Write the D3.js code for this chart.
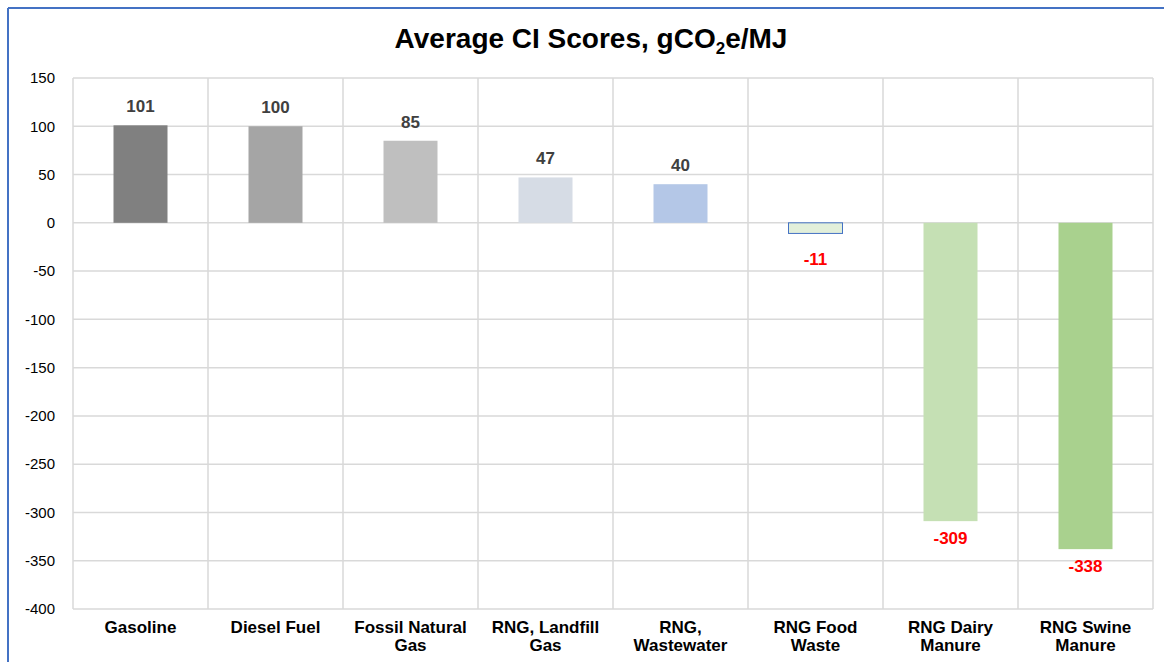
<!DOCTYPE html>
<html><head><meta charset="utf-8">
<script src="https://cdn.jsdelivr.net/npm/d3@7"></script>
<style>body{margin:0;background:#fff;} svg{display:block;}</style>
</head><body>
<svg id="chart" width="1164" height="662"></svg>
<script>
const categories = [["Gasoline"],["Diesel Fuel"],["Fossil Natural","Gas"],["RNG, Landfill","Gas"],["RNG,","Wastewater"],["RNG Food","Waste"],["RNG Dairy","Manure"],["RNG Swine","Manure"]];
const values = [101, 100, 85, 47, 40, -11, -309, -338];
const colors = ["#808080","#a5a5a5","#bfbfbf","#d6dce5","#b4c7e7","#e2efda","#c5e0b4","#a9d18e"];
const strokes = [null,null,null,null,null,"#4472c4",null,null];
const yTicks = [150,100,50,0,-50,-100,-150,-200,-250,-300,-350,-400];

const svg = d3.select("#chart");
const L = 73, R = 1153, T = 78, B = 609;
const font = "'Liberation Sans', Arial, Helvetica, sans-serif";

// outer border
svg.append("line").attr("x1",8).attr("x2",1164).attr("y1",8).attr("y2",8).attr("stroke","#4472c4").attr("stroke-width",2);
svg.append("line").attr("x1",8).attr("x2",8).attr("y1",8).attr("y2",662).attr("stroke","#4472c4").attr("stroke-width",2);

const x = d3.scaleBand().domain(d3.range(categories.length)).range([L,R]).paddingInner(0).paddingOuter(0);
const y = d3.scaleLinear().domain([-400,150]).range([B,T]);

// grid
svg.append("g").selectAll("line").data(yTicks).join("line")
  .attr("x1",L).attr("x2",R).attr("y1",d=>y(d)).attr("y2",d=>y(d))
  .attr("stroke","#d9d9d9").attr("stroke-width",1.5);
svg.append("g").selectAll("line").data(d3.range(categories.length+1)).join("line")
  .attr("x1",d=>L+d*x.bandwidth()).attr("x2",d=>L+d*x.bandwidth()).attr("y1",T).attr("y2",B)
  .attr("stroke","#d9d9d9").attr("stroke-width",1.5);

// y axis labels
const yAxis = d3.axisLeft(y).tickValues(yTicks).tickSize(0).tickPadding(0).tickFormat(d=>String(d));
const ya = svg.append("g").attr("transform",`translate(55,0)`).call(yAxis);
ya.select(".domain").remove();
ya.selectAll("text").attr("font-family",font).attr("font-size",15).attr("fill","#000");

// bars
const bw = x.bandwidth()*0.4;
svg.append("g").selectAll("rect").data(values).join("rect")
  .attr("x",(d,i)=>x(i)+(x.bandwidth()-bw)/2)
  .attr("width",bw)
  .attr("y",d=>y(Math.max(0,d)))
  .attr("height",d=>Math.abs(y(d)-y(0)))
  .attr("fill",(d,i)=>colors[i])
  .attr("stroke",(d,i)=>strokes[i]||"none")
  .attr("stroke-width",1);

// value labels
svg.append("g").selectAll("text").data(values).join("text")
  .attr("x",(d,i)=>x(i)+x.bandwidth()/2)
  .attr("y",d=> d>=0 ? y(d)-13 : y(d)+(d>-50?32:23))
  .attr("text-anchor","middle")
  .attr("font-family",font).attr("font-weight","bold").attr("font-size",17)
  .attr("fill",d=> d>=0 ? "#404040" : "#ff0000")
  .text(d=>String(d));

// x labels
const xl = svg.append("g").selectAll("text").data(categories).join("text")
  .attr("text-anchor","middle")
  .attr("font-family",font).attr("font-weight","bold").attr("font-size",17).attr("fill","#000");
xl.each(function(lines,i){
  const t = d3.select(this);
  lines.forEach((ln,j)=>{
    t.append("tspan").attr("x",x(i)+x.bandwidth()/2).attr("y",633+j*18).text(ln);
  });
});

// title
const title = svg.append("text").attr("x",591).attr("y",48).attr("text-anchor","middle")
  .attr("font-family",font).attr("font-weight","bold").attr("font-size",28).attr("fill","#000");
title.append("tspan").text("Average CI Scores, gCO");
title.append("tspan").attr("font-size",17).attr("dy",6).text("2");
title.append("tspan").attr("dy",-6).text("e/MJ");
</script>
</body></html>
